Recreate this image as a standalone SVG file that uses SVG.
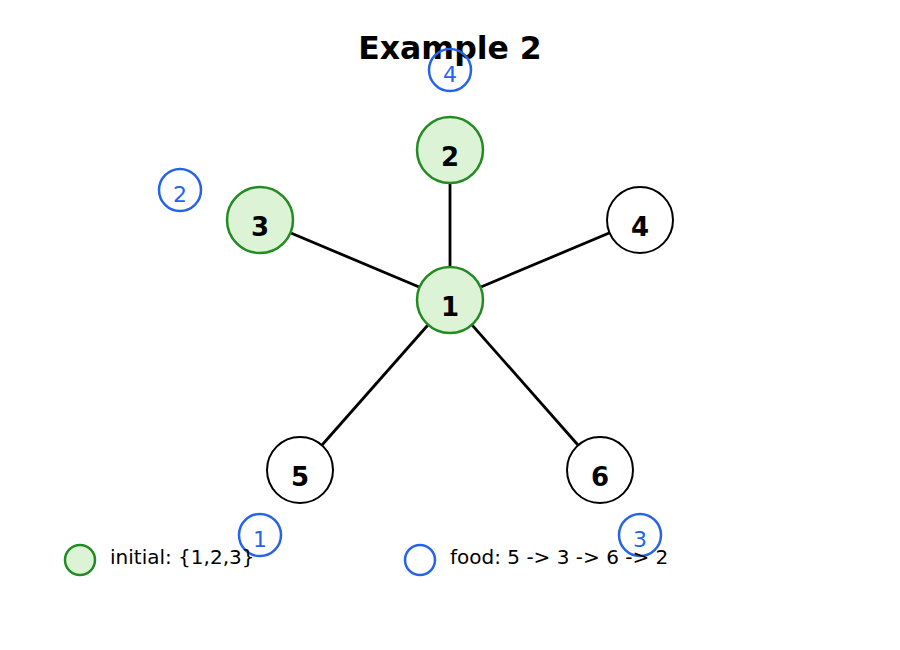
<svg xmlns="http://www.w3.org/2000/svg" width="900" height="650" viewBox="0 0 900 650">
<style>
.edge{stroke:#000;stroke-width:2.8;fill:none}
.init{fill:#ddf3d6;stroke:#228b22;stroke-width:2.5}
.plain{fill:#fff;stroke:#000;stroke-width:2}
.food{fill:none;stroke:#2563eb;stroke-width:2.5}
.lbl{font-family:"DejaVu Sans",sans-serif;font-weight:bold;font-size:26px;text-anchor:middle;fill:#000}
.flbl{font-family:"DejaVu Sans",sans-serif;font-size:22px;text-anchor:middle;fill:#2563eb}
.leg{font-family:"DejaVu Sans",sans-serif;font-size:20px;fill:#000}
.title{font-family:"DejaVu Sans",sans-serif;font-weight:bold;font-size:31.5px;text-anchor:middle;fill:#000}
</style>
<rect width="900" height="650" fill="#fff"/>
<text class="title" x="450" y="59">Example 2</text>
<g id="edges">
<line class="edge" x1="450" y1="300" x2="450" y2="150"/>
<line class="edge" x1="450" y1="300" x2="260" y2="220"/>
<line class="edge" x1="450" y1="300" x2="640" y2="220"/>
<line class="edge" x1="450" y1="300" x2="300" y2="470"/>
<line class="edge" x1="450" y1="300" x2="600" y2="470"/>
</g>
<g id="node1"><circle class="init" cx="450" cy="300" r="33"/><text class="lbl" x="450" y="316">1</text></g>
<g id="node2"><circle class="init" cx="450" cy="150" r="33"/><text class="lbl" x="450" y="166">2</text></g>
<g id="node3"><circle class="init" cx="260" cy="220" r="33"/><text class="lbl" x="260" y="236">3</text></g>
<g id="node4"><circle class="plain" cx="640" cy="220" r="33"/><text class="lbl" x="640" y="236">4</text></g>
<g id="node5"><circle class="plain" cx="300" cy="470" r="33"/><text class="lbl" x="300" y="486">5</text></g>
<g id="node6"><circle class="plain" cx="600" cy="470" r="33"/><text class="lbl" x="600" y="486">6</text></g>
<g id="food1"><circle class="food" cx="260" cy="535" r="21"/><text class="flbl" x="260" y="547">1</text></g>
<g id="food2"><circle class="food" cx="180" cy="190" r="21"/><text class="flbl" x="180" y="202">2</text></g>
<g id="food3"><circle class="food" cx="640" cy="535" r="21"/><text class="flbl" x="640" y="547">3</text></g>
<g id="food4"><circle class="food" cx="450" cy="70" r="21"/><text class="flbl" x="450" y="82">4</text></g>
<g id="legend">
<circle class="init" cx="80" cy="560" r="15"/>
<text class="leg" x="110" y="564">initial: {1,2,3}</text>
<circle class="food" cx="420" cy="560" r="15"/>
<text class="leg" x="450" y="564">food: 5 -&gt; 3 -&gt; 6 -&gt; 2</text>
</g>
</svg>
